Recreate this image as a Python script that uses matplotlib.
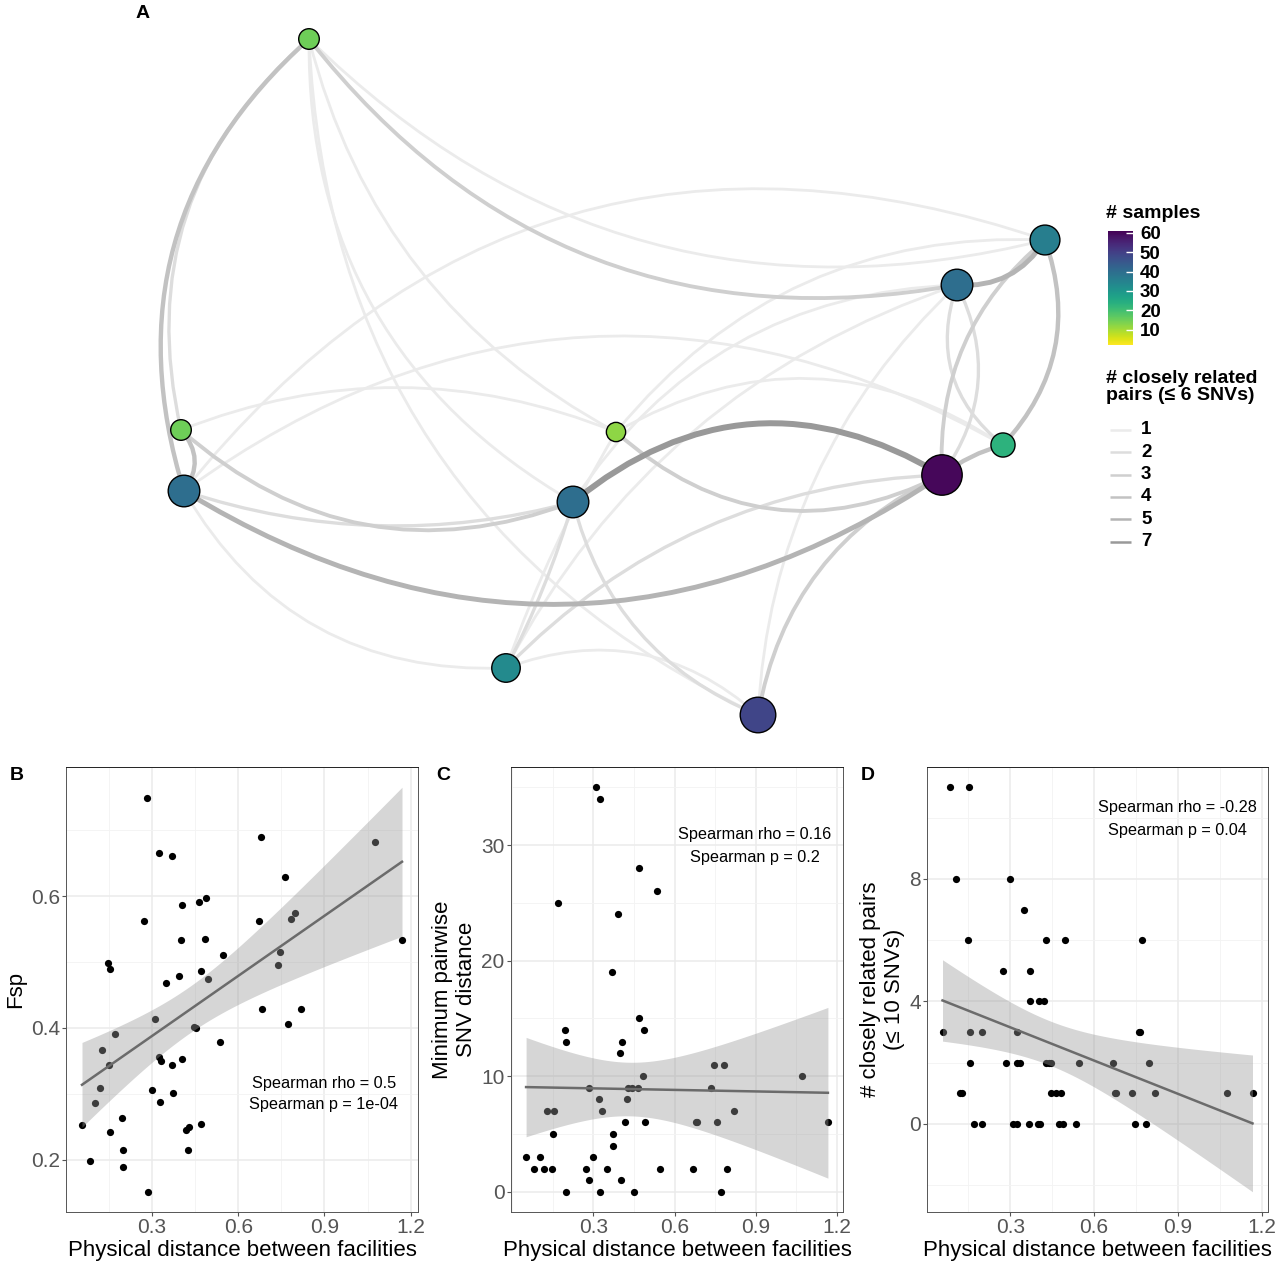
# network of facilities + distance scatter panels
import numpy as np
import matplotlib
matplotlib.use('Agg')
import matplotlib.pyplot as plt
from matplotlib.patches import FancyArrowPatch
from matplotlib.ticker import MultipleLocator
from matplotlib import cm, colors

plt.rcParams['font.family'] = ['Liberation Sans', 'DejaVu Sans']

# ---- panel A data ----
node_x = [309, 1045, 957, 181, 616, 1003, 942, 184, 573, 506, 758]
node_y = [39, 240, 285, 430, 432, 445, 475, 491, 502, 668, 715]
node_samples = [15, 36, 40, 15, 12, 23, 60, 40, 40, 33, 49]

edge_a = [0, 0, 3, 0, 0, 0, 0, 0, 7, 8, 4, 2, 1, 1, 2, 2, 5, 6, 2, 8, 4, 7, 7, 3, 3, 7, 9, 9, 9, 9, 7, 8, 4, 9]
edge_b = [7, 3, 7, 2, 1, 10, 8, 4, 6, 6, 6, 1, 5, 6, 5, 6, 6, 10, 10, 2, 1, 1, 5, 4, 8, 8, 8, 6, 4, 10, 9, 10, 5, 2]
edge_pairs = [4, 2, 4, 3, 1, 1, 1, 1, 5, 7, 3, 5, 4, 3, 2, 2, 4, 3, 1, 1, 1, 1, 1, 1, 3, 2, 2, 2, 1, 1, 1, 2, 1, 1]
edge_bend = [0.32, 0.30, -0.4, 0.30, 0.28, 0.30, 0.29, 0.22, 0.32, -0.35, 0.34, 0.3, -0.3, 0.25, 0.35, -0.3,
             0.1, 0.26, 0.2, -0.26, -0.25, -0.35, -0.32, -0.2, 0.3, 0.15, 0.05, -0.2, -0.05, -0.3, 0.3, 0.25, -0.31, -0.2]

legend_pairs = [1, 2, 3, 4, 5, 7]
sample_ticks = [10, 20, 30, 40, 50, 60]

# ---- panel B-D data ----
b_dist = [0.284, 0.678, 1.077, 0.323, 0.368, 0.761, 0.464, 0.488, 0.403, 0.273, 0.671, 0.785, 0.796, 0.400,
          0.484, 1.170, 0.547, 0.747, 0.739, 0.147, 0.155, 0.469, 0.394, 0.493, 0.350, 0.681, 0.819, 0.774,
          0.309, 0.446, 0.452, 0.171, 0.536, 0.127, 0.324, 0.332, 0.404, 0.371, 0.150, 0.120, 0.300, 0.372,
          0.102, 0.327, 0.056, 0.195, 0.470, 0.417, 0.429, 0.154, 0.198, 0.425, 0.084, 0.197, 0.286]
b_fsp = [0.749, 0.690, 0.683, 0.666, 0.661, 0.629, 0.591, 0.598, 0.586, 0.562, 0.562, 0.566, 0.575, 0.534,
         0.535, 0.533, 0.511, 0.515, 0.495, 0.498, 0.490, 0.486, 0.479, 0.475, 0.468, 0.428, 0.429, 0.406,
         0.413, 0.401, 0.400, 0.390, 0.379, 0.367, 0.355, 0.350, 0.353, 0.343, 0.343, 0.309, 0.306, 0.301,
         0.286, 0.287, 0.252, 0.263, 0.254, 0.245, 0.249, 0.242, 0.214, 0.215, 0.197, 0.189, 0.151]

c_dist = [0.309, 0.323, 0.470, 0.536, 0.170, 0.392, 0.367, 0.470, 0.195, 0.487, 0.197, 0.404, 0.398, 0.483,
          1.073, 0.745, 0.783, 0.284, 0.426, 0.444, 0.463, 0.735, 0.321, 0.425, 0.128, 0.153, 0.333, 0.819,
          0.416, 0.491, 0.679, 0.684, 0.757, 1.167, 0.152, 0.371, 0.371, 0.051, 0.102, 0.299, 0.082, 0.118,
          0.148, 0.272, 0.350, 0.545, 0.667, 0.795, 0.283, 0.403, 0.197, 0.324, 0.449, 0.772]
c_snv = [35, 34, 28, 26, 25, 24, 19, 15, 14, 14, 13, 13, 12, 10, 10, 11, 11, 9, 9, 9, 9, 9, 8, 8, 7, 7, 7, 7,
         6, 6, 6, 6, 6, 6, 5, 5, 4, 3, 3, 3, 2, 2, 2, 2, 2, 2, 2, 2, 1, 1, 0, 0, 0, 0]

d_dist = [0.083, 0.153, 0.104, 0.300, 0.350, 0.148, 0.427, 0.494, 0.773, 0.275, 0.372, 0.372, 0.402, 0.419,
          0.057, 0.154, 0.197, 0.324, 0.760, 0.763, 0.155, 0.283, 0.324, 0.333, 0.428, 0.439, 0.445, 0.546,
          0.669, 0.796, 0.118, 0.127, 0.446, 0.463, 0.480, 0.676, 0.680, 0.737, 0.818, 1.074, 1.167, 0.169,
          0.199, 0.308, 0.324, 0.368, 0.399, 0.407, 0.475, 0.490, 0.536, 0.745, 0.784]
d_pairs = [11, 11, 8, 8, 7, 6, 6, 6, 6, 5, 5, 4, 4, 4, 3, 3, 3, 3, 3, 3, 2, 2, 2, 2, 2, 2, 2, 2, 2, 2,
           1, 1, 1, 1, 1, 1, 1, 1, 1, 1, 1, 0, 0, 0, 0, 0, 0, 0, 0, 0, 0, 0, 0]

W, H = 1280, 1272
fig = plt.figure(figsize=(12.8, 12.72), dpi=100)


def edge_style(w):
    g = 235 - (w - 1) / 6 * 82
    c = '#%02x%02x%02x' % (int(g), int(g), int(g))
    return c, 2.0 + (w - 1) / 6 * 2.3


# ---- network ----
axn = fig.add_axes([0, 1 - 745 / H, 1090 / W, 745 / H])
axn.set_xlim(0, 1090)
axn.set_ylim(745, 0)
axn.axis('off')

order = np.argsort(edge_pairs, kind='stable')
for i in order:
    a, b = edge_a[i], edge_b[i]
    col, lw = edge_style(edge_pairs[i])
    p = FancyArrowPatch((node_x[a], node_y[a]), (node_x[b], node_y[b]), arrowstyle='-',
                        connectionstyle='arc3,rad=%s' % edge_bend[i], color=col, lw=lw,
                        shrinkA=0, shrinkB=0, zorder=1 + edge_pairs[i] * 0.01)
    axn.add_patch(p)

norm = colors.Normalize(2, 61)
cmap = plt.get_cmap('viridis_r')
samp = np.array(node_samples)
rad_px = 7 + 0.22 * samp
axn.scatter(node_x, node_y, s=(2 * rad_px * 0.72) ** 2, c=samp, cmap=cmap, norm=norm,
            edgecolors='black', linewidths=1.0, zorder=5)

fig.text(143 / W, 1 - 13 / H, 'A', fontsize=14, fontweight='bold', ha='center', va='center')

# legend: colour bar
fig.text(1106 / W, 1 - 213 / H, '# samples', fontsize=14, fontweight='bold', va='center')
cax = fig.add_axes([1108 / W, 1 - 345 / H, 25 / W, 114 / H])
cb = fig.colorbar(cm.ScalarMappable(norm=norm, cmap=cmap), cax=cax, ticks=sample_ticks)
cb.outline.set_visible(False)
cax.tick_params(length=5, width=1, color='white', direction='in', labelsize=13.5, pad=5)
for t in cax.get_yticklabels():
    t.set_fontweight('bold')

# legend: edge weights
fig.text(1106 / W, 1 - 387 / H, '# closely related\npairs (\u2264 6 SNVs)', fontsize=14,
         fontweight='bold', va='center', linespacing=1.0)
axl = fig.add_axes([0, 0, 1, 1], facecolor='none')
axl.set_xlim(0, W)
axl.set_ylim(H, 0)
axl.axis('off')
for k, w in enumerate(legend_pairs):
    yy = 430 + k * 22.3
    col, lw = edge_style(w)
    axl.plot([1110, 1131], [yy, yy], color=col, lw=1.8, solid_capstyle='butt')
    axl.text(1141, yy, str(w), fontsize=13.5, fontweight='bold', va='center')


# ---- scatter panels ----
def panel(rect, x, y, ylabel, ticks_y, minor_y, txt, txt_y):
    ax = fig.add_axes(rect)
    x = np.asarray(x, float)
    y = np.asarray(y, float)
    ax.scatter(x, y, s=27, color='black', linewidths=0, zorder=2)
    n = len(x)
    slope, icpt = np.polyfit(x, y, 1)
    xs = np.linspace(x.min(), x.max(), 80)
    fit = icpt + slope * xs
    resid = y - (icpt + slope * x)
    s = np.sqrt(np.sum(resid ** 2) / (n - 2))
    se = s * np.sqrt(1 / n + (xs - x.mean()) ** 2 / np.sum((x - x.mean()) ** 2))
    lo, hi = fit - 2.006 * se, fit + 2.006 * se
    ax.fill_between(xs, lo, hi, color='#999999', alpha=0.4, lw=0, zorder=3)
    ax.plot(xs, fit, color='#6b6b6b', lw=1.8, zorder=4)
    xr = x.max() - x.min()
    ax.set_xlim(x.min() - 0.05 * xr, x.max() + 0.05 * xr)
    ymin, ymax = min(y.min(), lo.min()), max(y.max(), hi.max())
    yr = ymax - ymin
    ax.set_ylim(ymin - 0.05 * yr, ymax + 0.05 * yr)
    ax.set_xticks([0.3, 0.6, 0.9, 1.2])
    ax.xaxis.set_minor_locator(MultipleLocator(0.15))
    ax.set_yticks(ticks_y)
    ax.yaxis.set_minor_locator(MultipleLocator(minor_y))
    ax.grid(True, which='major', color='#ebebeb', lw=1.1)
    ax.grid(True, which='minor', color='#f3f3f3', lw=0.6)
    ax.set_axisbelow(True)
    for sp in ax.spines.values():
        sp.set_color('#555555')
        sp.set_linewidth(0.7)
    ax.spines['top'].set_color('#222222')
    ax.tick_params(which='major', length=3, width=0.8, color='#555555', labelsize=15,
                   labelcolor='#555555', pad=1.5)
    ax.tick_params(which='minor', length=0)
    ax.set_xlabel('Physical distance between facilities', fontsize=16, labelpad=2)
    ax.set_ylabel(ylabel, fontsize=16, labelpad=3)
    for j, t in enumerate(txt):
        ax.text(0.897, txt_y[j], t, fontsize=11.7, ha='center', va='center', zorder=5)
    return ax


top, bot = 767, 1212
panel([66 / W, 1 - bot / H, (418 - 66) / W, (bot - top) / H], b_dist, b_fsp, 'Fsp',
      [0.2, 0.4, 0.6], 0.1, ['Spearman rho = 0.5', 'Spearman p = 1e-04'], [0.316, 0.283])
panel([511 / W, 1 - bot / H, (843 - 511) / W, (bot - top) / H], c_dist, c_snv,
      'Minimum pairwise\nSNV distance', [0, 10, 20, 30], 5,
      ['Spearman rho = 0.16', 'Spearman p = 0.2'], [30.9, 28.9])
panel([927 / W, 1 - bot / H, (1268 - 927) / W, (bot - top) / H], d_dist, d_pairs,
      '# closely related pairs\n(\u2264 10 SNVs)', [0, 4, 8], 2,
      ['Spearman rho = -0.28', 'Spearman p = 0.04'], [10.35, 9.58])

for lab, px in [('B', 17), ('C', 443), ('D', 868)]:
    fig.text(px / W, 1 - 775 / H, lab, fontsize=14, fontweight='bold', ha='center', va='center')

fig.savefig('out.png', dpi=100, facecolor='white')
